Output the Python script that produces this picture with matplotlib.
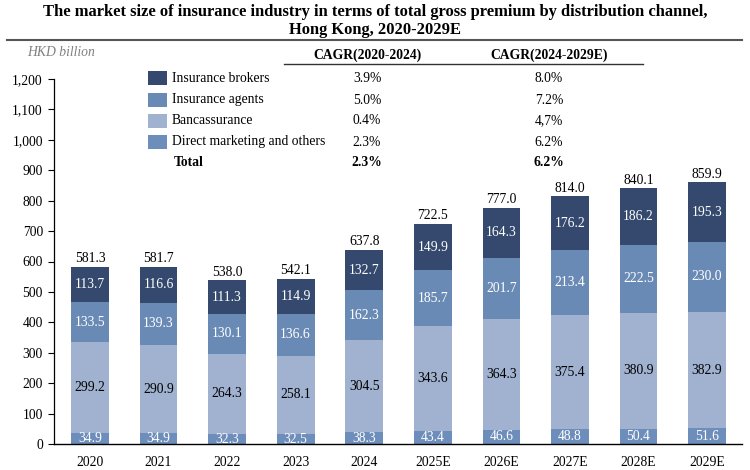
import matplotlib
matplotlib.use("Agg")
import matplotlib.pyplot as plt
from matplotlib.patches import Rectangle
from matplotlib.lines import Line2D
from matplotlib.ticker import FuncFormatter

years = ["2020", "2021", "2022", "2023", "2024", "2025E", "2026E", "2027E", "2028E", "2029E"]
direct = [34.9, 34.9, 32.3, 32.5, 38.3, 43.4, 46.6, 48.8, 50.4, 51.6]
banca = [299.2, 290.9, 264.3, 258.1, 304.5, 343.6, 364.3, 375.4, 380.9, 382.9]
agents = [133.5, 139.3, 130.1, 136.6, 162.3, 185.7, 201.7, 213.4, 222.5, 230.0]
brokers = [113.7, 116.6, 111.3, 114.9, 132.7, 149.9, 164.3, 176.2, 186.2, 195.3]
totals = [581.3, 581.7, 538.0, 542.1, 637.8, 722.5, 777.0, 814.0, 840.1, 859.9]

legend_names = ["Insurance brokers", "Insurance agents", "Bancassurance", "Direct marketing and others"]
cagr_2020_2024 = ["3.9%", "5.0%", "0.4%", "2.3%"]
cagr_2024_2029 = ["8.0%", "7.2%", "4,7%", "6.2%"]
total_cagr = ["2.3%", "6.2%"]

c_brokers = "#34496d"
c_agents = "#6a8ab6"
c_banca = "#a0b2d0"
c_direct = "#6d8dba"

plt.rcParams['font.family'] = ['Liberation Serif', 'DejaVu Serif']

W, H = 750, 470
fig = plt.figure(figsize=(7.5, 4.7), dpi=100)

def fx(px):
    return px / W

def fy(py):
    return 1 - py / H

ax = fig.add_axes([fx(54), fy(444), fx(742) - fx(54), fy(79) - fy(444)])
x = list(range(len(years)))
bw = 0.55
series = [(direct, c_direct, "white"), (banca, c_banca, "black"),
          (agents, c_agents, "white"), (brokers, c_brokers, "white")]
bottom = [0.0] * len(years)
fs = 9.8
for vals, col, tcol in series:
    ax.bar(x, vals, bw, bottom=bottom, color=col, edgecolor="none", zorder=2)
    for i, v in enumerate(vals):
        ax.text(i, bottom[i] + v / 2, f"{v:.1f}", ha="center", va="center",
                color=tcol, fontsize=fs, zorder=3)
    bottom = [b + v for b, v in zip(bottom, vals)]
for i, t in enumerate(totals):
    ax.text(i, bottom[i] + 6, f"{t:.1f}", ha="center", va="bottom", fontsize=fs, color="black")

ax.set_xlim(-0.525, 9.51)
ax.set_ylim(0, 1200)
ax.set_yticks(range(0, 1201, 100))
ax.yaxis.set_major_formatter(FuncFormatter(lambda v, p: f"{int(v):,}"))
ax.set_xticks(x)
ax.set_xticklabels(years)
ax.tick_params(axis="x", length=0, pad=8.5, labelsize=fs)
ax.tick_params(axis="y", length=4, width=0.8, direction="out", pad=4, labelsize=fs)
for s in ["top", "right"]:
    ax.spines[s].set_visible(False)
ax.spines["left"].set_linewidth(0.9)
ax.spines["bottom"].set_linewidth(1.0)

# Title
fig.text(0.5, fy(12.5), "The market size of insurance industry in terms of total gross premium by distribution channel,",
         ha="center", va="center", fontsize=11.9, fontweight="bold")
fig.text(0.5, fy(30), "Hong Kong, 2020-2029E", ha="center", va="center", fontsize=11.9, fontweight="bold")
fig.add_artist(Line2D([fx(7), fx(742)], [fy(39.5), fy(39.5)], color="#555555", lw=1.5))

fig.text(fx(27), fy(53), "HKD billion", ha="left", va="center", fontsize=fs,
         style="italic", color="#808080")

# Table legend
fig.text(fx(368), fy(55), "CAGR(2020-2024)", ha="center", va="center", fontsize=fs, fontweight="bold")
fig.text(fx(549), fy(55), "CAGR(2024-2029E)", ha="center", va="center", fontsize=fs, fontweight="bold")
fig.add_artist(Line2D([fx(284), fx(643)], [fy(64), fy(64)], color="#333333", lw=1.0))

rows_y = [78, 100, 121, 142]
cols = [c_brokers, c_agents, c_banca, c_direct]
for name, col, a, b, yy in zip(legend_names, cols, cagr_2020_2024, cagr_2024_2029, rows_y):
    fig.add_artist(Rectangle((fx(148), fy(yy + 7)), fx(167) - fx(148), fy(yy - 7) - fy(yy + 7),
                             facecolor=col, edgecolor="none", transform=fig.transFigure))
    fig.text(fx(172), fy(yy), name, ha="left", va="center", fontsize=fs)
    fig.text(fx(367), fy(yy), a, ha="center", va="center", fontsize=fs)
    fig.text(fx(549), fy(yy), b, ha="center", va="center", fontsize=fs)
fig.text(fx(174), fy(163), "Total", ha="left", va="center", fontsize=fs, fontweight="bold")
fig.text(fx(367), fy(163), total_cagr[0], ha="center", va="center", fontsize=fs, fontweight="bold")
fig.text(fx(549), fy(163), total_cagr[1], ha="center", va="center", fontsize=fs, fontweight="bold")

fig.savefig("out.png", dpi=100)
